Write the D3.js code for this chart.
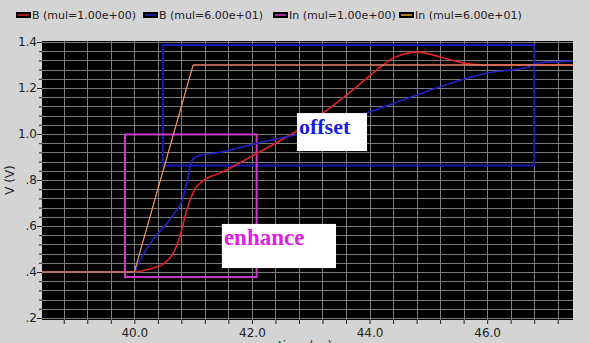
<!DOCTYPE html>
<html>
<head>
<meta charset="utf-8">
<script src="https://cdn.jsdelivr.net/npm/d3@7"></script>
<style>
  body { margin: 0; background: #d4d4d4; }
  svg { display: block; }
</style>
</head>
<body>
<div id="chart"></div>
<script>
// series data (time in ns, volts)
var redX = [38.43, 40.0, 40.26, 40.49, 40.66, 40.77, 40.89, 41.03, 41.17, 41.46, 42.08, 42.76, 43.5, 43.85, 44.18, 44.4, 44.83, 45.2, 45.6, 45.93, 47.46]
var redY = [0.40, 0.40, 0.413, 0.435, 0.48, 0.55, 0.667, 0.76, 0.797, 0.83, 0.915, 1.013, 1.147, 1.22, 1.29, 1.33, 1.356, 1.335, 1.308, 1.30, 1.30]
var blueX = [38.43, 40.0, 40.09, 40.26, 40.49, 40.69, 40.83, 40.91, 40.98, 41.11, 41.46, 42.08, 42.77, 44.18, 45.37, 46.0, 46.68, 46.9, 47.46]
var blueY = [0.40, 0.40, 0.448, 0.52, 0.592, 0.658, 0.723, 0.81, 0.885, 0.907, 0.92, 0.96, 0.998, 1.112, 1.22, 1.265, 1.29, 1.31, 1.317]
var inX = [38.43, 40.0, 41.0, 47.46]
var inY = [0.40, 0.40, 1.30, 1.30]

var legendNames = ["B (mul=1.00e+00)", "B (mul=6.00e+01)", "In (mul=1.00e+00)", "In (mul=6.00e+01)"]
var legendColors = ["#e02424", "#2222c8", "#d040d0", "#f0a430"]

var xTicks = [40, 42, 44, 46]
var yTicks = [0.2, 0.4, 0.6, 0.8, 1.0, 1.2, 1.4]
var yTickLabels = [".2", ".4", ".6", ".8", "1.0", "1.2", "1.4"]

// annotation boxes in data coords
var offsetBox = {x0: 40.485, x1: 46.8, y0: 0.863, y1: 1.387}
var enhanceBox = {x0: 39.84, x1: 42.08, y0: 0.378, y1: 0.998}
var offsetLabel = {x0: 42.766, x1: 43.957, y0: 0.926, y1: 1.091, text: "offset"}
var enhanceLabel = {x0: 41.489, x1: 43.43, y0: 0.417, y1: 0.609, text: "enhance"}

var svgSize = {width: 589, height: 343}
var plot = {left: 42, right: 573, top: 41, bottom: 320}

var svg = d3.select("#chart").append("svg")
    .attr("width", svgSize.width)
    .attr("height", svgSize.height)

svg.append("rect").attr("width", svgSize.width).attr("height", svgSize.height).attr("fill", "#d4d4d4")

var xScale = d3.scaleLinear().domain([38.43, 47.46]).range([plot.left, plot.right])
var yScale = d3.scaleLinear().domain([0.2, 1.4]).range([318, 42])

svg.append("defs").append("clipPath").attr("id", "clip")
    .append("rect")
    .attr("x", plot.left).attr("y", plot.top)
    .attr("width", plot.right - plot.left).attr("height", plot.bottom - plot.top)

svg.append("rect")
    .attr("x", plot.left).attr("y", plot.top)
    .attr("width", plot.right - plot.left).attr("height", plot.bottom - plot.top)
    .attr("fill", "#000")

var frame = svg.append("g").attr("clip-path", "url(#clip)")

// grid
var xGrid = d3.range(38.8, 47.5, 0.4)
var yGrid = d3.range(0.2, 1.41, 0.04)
frame.selectAll(".vg").data(xGrid).enter().append("line")
    .attr("x1", d => Math.round(xScale(d)) + 0.5).attr("x2", d => Math.round(xScale(d)) + 0.5)
    .attr("y1", plot.top).attr("y2", plot.bottom)
    .attr("stroke", "#7c7c7c").attr("stroke-width", 1)
frame.selectAll(".hg").data(yGrid).enter().append("line")
    .attr("y1", d => Math.round(yScale(d)) + 0.5).attr("y2", d => Math.round(yScale(d)) + 0.5)
    .attr("x1", plot.left).attr("x2", plot.right)
    .attr("stroke", "#7c7c7c").attr("stroke-width", 1)

// axes
var bottomAxis = d3.axisBottom(xScale).tickValues(xGrid).tickSize(4).tickFormat(d => {
    var hit = xTicks.find(t => Math.abs(t - d) < 1e-6)
    return hit !== undefined ? hit.toFixed(1) : ""
})
var leftAxis = d3.axisLeft(yScale).tickValues(yGrid).tickSize(3).tickFormat(d => {
    var i = yTicks.findIndex(t => Math.abs(t - d) < 1e-6)
    return i >= 0 ? yTickLabels[i] : ""
})

var gx = svg.append("g").attr("transform", `translate(0, ${plot.bottom})`).call(bottomAxis)
gx.select(".domain").remove()
gx.selectAll("line").attr("stroke", "#222")
gx.selectAll("text").attr("font-family", "DejaVu Sans").attr("font-size", 12).attr("fill", "#222").attr("dy", "0.85em")

var gy = svg.append("g").attr("transform", `translate(${plot.left}, 0)`).call(leftAxis)
gy.select(".domain").remove()
gy.selectAll("line").attr("stroke", "#222")
gy.selectAll(".tick").filter(d => yTicks.some(t => Math.abs(t - d) < 1e-6)).select("line").attr("x2", -5)
gy.selectAll("text").attr("font-family", "DejaVu Sans").attr("font-size", 12).attr("fill", "#222").attr("x", -5)

svg.append("text")
    .attr("transform", "translate(14, 180) rotate(-90)")
    .attr("text-anchor", "middle")
    .attr("font-family", "DejaVu Sans").attr("font-size", 12).attr("fill", "#222")
    .text("V (V)")

svg.append("text")
    .attr("x", 305).attr("y", 350)
    .attr("text-anchor", "middle")
    .attr("font-family", "DejaVu Sans").attr("font-size", 12).attr("fill", "#222")
    .text("time (ns)")

// annotation rectangles
function box(b, color) {
    frame.append("rect")
        .attr("x", xScale(b.x0)).attr("y", yScale(b.y1))
        .attr("width", xScale(b.x1) - xScale(b.x0))
        .attr("height", yScale(b.y0) - yScale(b.y1))
        .attr("fill", "none").attr("stroke", color).attr("stroke-width", 2)
}
box(offsetBox, "#1818b8")
box(enhanceBox, "#c83cc8")

// curves
var smooth = d3.line().x(d => xScale(d[0])).y(d => yScale(d[1])).curve(d3.curveMonotoneX)
var straight = d3.line().x(d => xScale(d[0])).y(d => yScale(d[1]))

frame.append("path").datum(d3.zip(redX, redY)).attr("d", smooth)
    .attr("fill", "none").attr("stroke", legendColors[0]).attr("stroke-width", 1.6)
frame.append("path").datum(d3.zip(blueX, blueY)).attr("d", smooth)
    .attr("fill", "none").attr("stroke", legendColors[1]).attr("stroke-width", 1.6)
frame.append("path").datum(d3.zip(inX, inY)).attr("d", straight)
    .attr("fill", "none").attr("stroke", legendColors[2]).attr("stroke-width", 1)
frame.append("path").datum(d3.zip(inX, inY)).attr("d", straight)
    .attr("fill", "none").attr("stroke", legendColors[3]).attr("stroke-width", 1)

// label boxes
function label(l, color, size) {
    frame.append("rect")
        .attr("x", xScale(l.x0)).attr("y", yScale(l.y1))
        .attr("width", xScale(l.x1) - xScale(l.x0))
        .attr("height", yScale(l.y0) - yScale(l.y1))
        .attr("fill", "#fff")
    frame.append("text")
        .attr("x", xScale(l.x0) + 2).attr("y", yScale(l.y1) + 21)
        .attr("font-family", "Liberation Serif").attr("font-weight", "bold")
        .attr("font-size", size).attr("fill", color)
        .text(l.text)
}
label(offsetLabel, "#1c1cd8", 22)
label(enhanceLabel, "#e020e0", 23)

// legend
var legendX = [16, 143, 273, 399]
var legend = svg.append("g")
legendNames.forEach((name, i) => {
    var g = legend.append("g").attr("transform", `translate(${legendX[i]}, 0)`)
    g.append("rect").attr("x", 0).attr("y", 12).attr("width", 15).attr("height", 6).attr("fill", "#000")
    g.append("line").attr("x1", 2).attr("x2", 13).attr("y1", 15).attr("y2", 15)
        .attr("stroke", legendColors[i]).attr("stroke-width", 1.5)
    g.append("text").attr("x", 16).attr("y", 19)
        .attr("font-family", "DejaVu Sans").attr("font-size", 11).attr("fill", "#222")
        .text(name)
})
</script>
</body>
</html>
